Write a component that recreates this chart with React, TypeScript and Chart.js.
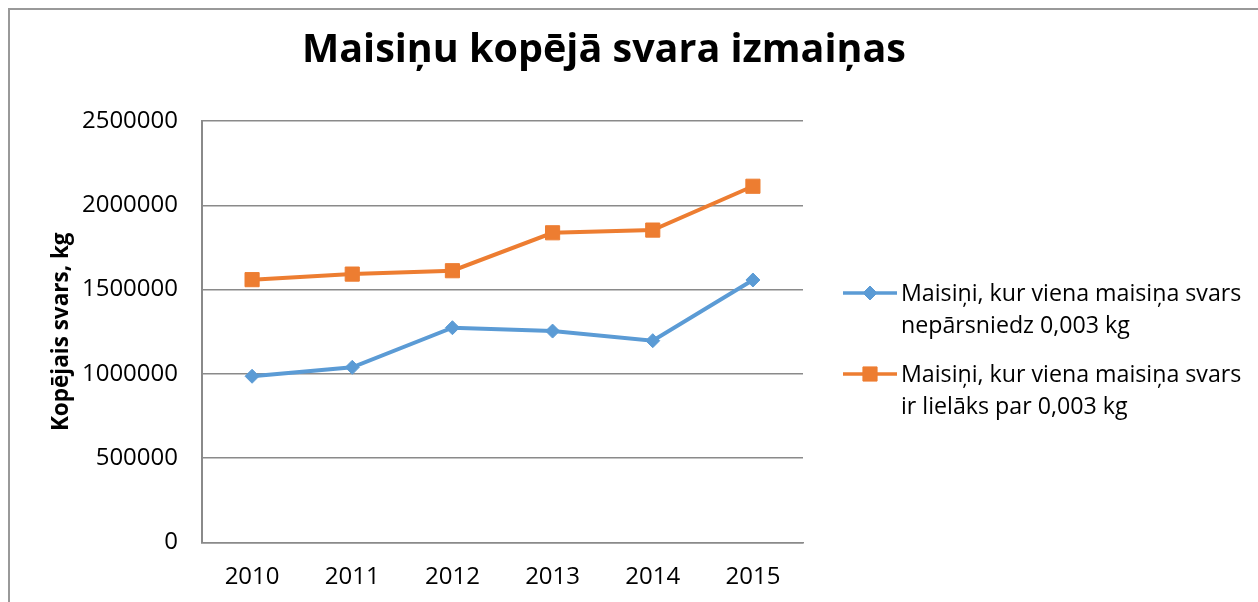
import React, { useEffect, useRef } from 'react';
import { Chart, registerables } from 'chart.js';
import { drawPoint } from 'chart.js/helpers';

Chart.register(...registerables);

const categories = ['2010', '2011', '2012', '2013', '2014', '2015'];
const seriesSmall = [986000, 1039000, 1274000, 1254000, 1197000, 1557000];
const seriesLarge = [1559000, 1592000, 1612000, 1837000, 1853000, 2113000];
const seriesLabels = [
  'Maisiņi, kur viena maisiņa svars nepārsniedz 0,003 kg',
  'Maisiņi, kur viena maisiņa svars ir lielāks par 0,003 kg',
];
const legendLines = [
  ['Maisiņi, kur viena maisiņa svars', 'nepārsniedz 0,003 kg'],
  ['Maisiņi, kur viena maisiņa svars', 'ir lielāks par 0,003 kg'],
];
const yMin = 0;
const yMax = 2500000;
const yStep = 500000;
const titleText = 'Maisiņu kopējā svara izmaiņas';
const yTitleText = 'Kopējais svars, kg';

const FONT = '"Open Sans", "DejaVu Sans", sans-serif';
const BLUE = '#5B9BD5';
const ORANGE = '#ED7D31';
const GRID = '#8a8a8a';

const overlayPlugin = {
  id: 'overlay',
  afterDraw(chart: any) {
    const ctx = chart.ctx as CanvasRenderingContext2D;
    ctx.save();
    ctx.fillStyle = '#000';
    ctx.font = `bold 39.5px ${FONT}`;
    ctx.textAlign = 'center';
    ctx.textBaseline = 'alphabetic';
    ctx.fillText(titleText, 604, 62);

    const itemY = [293, 374];
    chart.data.datasets.forEach((ds: any, i: number) => {
      const y = itemY[i];
      ctx.strokeStyle = ds.borderColor;
      ctx.lineWidth = 3.5;
      ctx.beginPath();
      ctx.moveTo(843, y);
      ctx.lineTo(897, y);
      ctx.stroke();
      ctx.fillStyle = ds.pointBackgroundColor;
      ctx.strokeStyle = ds.pointBorderColor;
      ctx.lineWidth = 1;
      drawPoint(ctx, { pointStyle: ds.pointStyle, radius: ds.pointRadius, borderWidth: 1, rotation: 0 } as any, 870, y);
      ctx.fillStyle = '#000';
      ctx.font = `23.2px ${FONT}`;
      ctx.textAlign = 'left';
      ctx.textBaseline = 'alphabetic';
      legendLines[i].forEach((ln, j) => {
        ctx.fillText(ln, 901, y + 8 + j * 32);
      });
    });
    ctx.restore();
  },
};

export default function App() {
  const ref = useRef<HTMLCanvasElement | null>(null);
  useEffect(() => {
    if (!ref.current) return;
    const chart = new Chart(ref.current, {
      type: 'line',
      data: {
        labels: categories,
        datasets: [
          {
            label: seriesLabels[0],
            data: seriesSmall,
            borderColor: BLUE,
            backgroundColor: BLUE,
            pointBackgroundColor: BLUE,
            pointBorderColor: BLUE,
            borderWidth: 4,
            pointStyle: 'rectRot',
            pointRadius: 7,
            pointBorderWidth: 1,
            tension: 0,
          },
          {
            label: seriesLabels[1],
            data: seriesLarge,
            borderColor: ORANGE,
            backgroundColor: ORANGE,
            pointBackgroundColor: ORANGE,
            pointBorderColor: ORANGE,
            borderWidth: 4,
            pointStyle: 'rect',
            pointRadius: 10,
            pointBorderWidth: 1,
            tension: 0,
          },
        ],
      },
      options: {
        animation: false,
        responsive: false,
        maintainAspectRatio: false,
        layout: { padding: { left: 0, right: 455, top: 121, bottom: 0 } },
        plugins: {
          legend: { display: false },
          title: { display: false },
          tooltip: { enabled: false },
        },
        scales: {
          x: {
            offset: true,
            grid: { display: false, drawTicks: false },
            border: { display: true, color: GRID, width: 1.5 },
            ticks: { color: '#000', font: { family: FONT, size: 24 }, padding: 20 },
            afterFit: (s: any) => {
              s.height = 59.5;
            },
          },
          y: {
            min: yMin,
            max: yMax,
            grid: { color: GRID, lineWidth: 1.5, drawTicks: false },
            border: { display: true, color: GRID, width: 2 },
            ticks: {
              stepSize: yStep,
              color: '#000',
              font: { family: FONT, size: 24 },
              padding: 24,
              callback: (v: any) => String(v),
            },
            title: {
              display: true,
              text: yTitleText,
              color: '#000',
              font: { family: FONT, size: 22.5, weight: 'bold' },
              padding: { top: 48.5, bottom: 0 },
            },
            afterFit: (s: any) => {
              s.width = 202;
            },
          },
        },
      },
      plugins: [overlayPlugin],
    });
    return () => chart.destroy();
  }, []);

  return (
    <div style={{ position: 'absolute', left: 0, top: 0, width: 1258, height: 602, overflow: 'hidden', background: '#fff' }}>
      <div
        style={{
          position: 'absolute',
          left: 8,
          top: 8,
          width: 1300,
          height: 700,
          borderTop: '2px solid #999',
          borderLeft: '2px solid #999',
        }}
      />
      <canvas ref={ref} width={1258} height={602} style={{ position: 'absolute', left: 0, top: 0, width: 1258, height: 602 }} />
    </div>
  );
}
